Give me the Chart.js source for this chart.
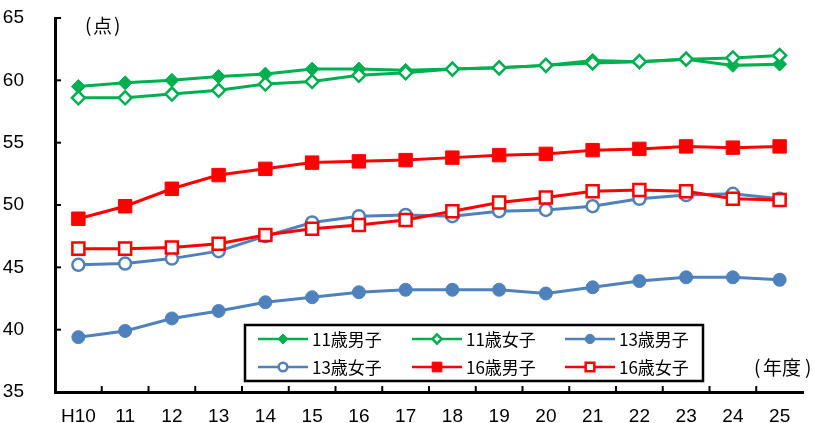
<!DOCTYPE html>
<html>
<head>
<meta charset="utf-8">
<script src="https://cdn.jsdelivr.net/npm/chart.js@4/dist/chart.umd.min.js"></script>
<style>
body { margin: 0; background: #fff; }
</style>
</head>
<body>
<canvas id="mycanvas" width="814" height="423"></canvas>
<script>
var years = ["H10", "11", "12", "13", "14", "15", "16", "17", "18", "19", "20", "21", "22", "23", "24", "25"];

var boys11  = [59.5, 59.8, 60.0, 60.3, 60.5, 60.9, 60.9, 60.8, 60.9, 61.0, 61.2, 61.6, 61.5, 61.7, 61.2, 61.3];
var girls11 = [58.6, 58.6, 58.9, 59.2, 59.7, 59.9, 60.4, 60.6, 60.9, 61.0, 61.2, 61.4, 61.5, 61.7, 61.8, 62.0];
var boys13  = [39.4, 39.9, 40.9, 41.5, 42.2, 42.6, 43.0, 43.2, 43.2, 43.2, 42.9, 43.4, 43.9, 44.2, 44.2, 44.0];
var girls13 = [45.2, 45.3, 45.7, 46.3, 47.5, 48.6, 49.1, 49.2, 49.1, 49.5, 49.6, 49.9, 50.5, 50.8, 50.9, 50.5];
var boys16  = [48.9, 49.9, 51.3, 52.4, 52.9, 53.4, 53.5, 53.6, 53.8, 54.0, 54.1, 54.4, 54.5, 54.7, 54.6, 54.7];
var girls16 = [46.5, 46.5, 46.6, 46.9, 47.6, 48.1, 48.4, 48.8, 49.5, 50.2, 50.6, 51.1, 51.2, 51.1, 50.5, 50.4];

var yTicks = [35, 40, 45, 50, 55, 60, 65];

var GREEN = "#00B050";
var BLUE = "#4F81BD";
var RED = "#FF0000";

function series(label, data, color, style, radius, filled) {
	return {
		label: label,
		data: data,
		borderColor: color,
		backgroundColor: color,
		borderWidth: 3,
		tension: 0,
		pointStyle: style,
		pointRadius: radius,
		pointBackgroundColor: filled ? color : "#fff",
		pointBorderColor: color,
		pointBorderWidth: filled ? 1 : 2.5
	};
}

var datasets = [
	series("11歳男子", boys11, GREEN, "rectRot", 7, true),
	series("11歳女子", girls11, GREEN, "rectRot", 6.5, false),
	series("13歳男子", boys13, BLUE, "circle", 6.5, true),
	series("13歳女子", girls13, BLUE, "circle", 6, false),
	series("16歳男子", boys16, RED, "rect", 9.5, true),
	series("16歳女子", girls16, RED, "rect", 8.5, false)
];
// later series on top, like the original
for (var i = 0; i < datasets.length; i++) datasets[i].order = -i;

function marker(ctx, ds, x, y, scale) {
	var r = ds.pointRadius * scale;
	ctx.beginPath();
	if (ds.pointStyle == "circle") {
		ctx.arc(x, y, r, 0, Math.PI * 2);
	} else if (ds.pointStyle == "rectRot") {
		ctx.moveTo(x, y - r); ctx.lineTo(x + r, y); ctx.lineTo(x, y + r); ctx.lineTo(x - r, y); ctx.closePath();
	} else {
		var s = r * Math.SQRT1_2;
		ctx.rect(x - s, y - s, s * 2, s * 2);
	}
	ctx.fillStyle = ds.pointBackgroundColor;
	ctx.fill();
	ctx.lineWidth = ds.pointBorderWidth;
	ctx.strokeStyle = ds.pointBorderColor;
	ctx.stroke();
}

var extras = {
	id: "extras",
	afterDraw: function(chart) {
		var ctx = chart.ctx, xs = chart.scales.x, ys = chart.scales.y, area = chart.chartArea;
		ctx.save();
		ctx.strokeStyle = "#000";
		ctx.lineWidth = 2;
		// tick marks point inward
		ys.ticks.forEach(function(t) {
			var y = ys.getPixelForValue(t.value);
			ctx.beginPath(); ctx.moveTo(area.left, y); ctx.lineTo(area.left + 6, y); ctx.stroke();
		});
		var step = xs.getPixelForValue(1) - xs.getPixelForValue(0);
		for (var i = 1; i < years.length; i++) {
			var x = xs.getPixelForValue(i) - step / 2;
			ctx.beginPath(); ctx.moveTo(x, area.bottom); ctx.lineTo(x, area.bottom - 6); ctx.stroke();
		}

		// legend box
		ctx.fillStyle = "#fff";
		ctx.fillRect(245, 325, 458, 56);
		ctx.lineWidth = 2.5;
		ctx.strokeStyle = "#000";
		ctx.strokeRect(245, 325, 458, 56);
		var cols = [258, 412, 565];
		var rows = [339, 367];
		ctx.font = "17px 'Noto Sans CJK JP'";
		ctx.textBaseline = "middle";
		ctx.textAlign = "left";
		chart.data.datasets.forEach(function(ds, k) {
			var lx = cols[k % 3], ly = rows[Math.floor(k / 3)];
			ctx.strokeStyle = ds.borderColor;
			ctx.lineWidth = 2.5;
			ctx.beginPath(); ctx.moveTo(lx, ly); ctx.lineTo(lx + 50, ly); ctx.stroke();
			marker(ctx, ds, lx + 25, ly, 0.72);
			ctx.fillStyle = "#000";
			ctx.fillText(ds.label, lx + 54, ly + 1);
		});

		// unit labels
		ctx.fillStyle = "#000";
		ctx.font = "19px 'Noto Sans CJK JP'";
		ctx.textBaseline = "middle";
		ctx.fillText("(", 85, 25);
		ctx.fillText("点", 93, 26);
		ctx.fillText(")", 114, 25);
		ctx.fillText("(", 754, 367);
		ctx.fillText("年度", 763, 368);
		ctx.fillText(")", 805, 367);
		ctx.restore();
	}
};

var ctx = document.getElementById("mycanvas");

var LineGraph = new Chart(ctx, {
	type: "line",
	data: {
		labels: years,
		datasets: datasets
	},
	options: {
		responsive: false,
		animation: false,
		devicePixelRatio: 1,
		layout: { padding: { top: 18, right: 0, left: 0, bottom: 0 } },
		plugins: {
			legend: { display: false },
			tooltip: { enabled: false }
		},
		scales: {
			x: {
				offset: true,
				grid: { display: false },
				border: { display: true, color: "#000", width: 3 },
				ticks: {
					color: "#000",
					font: { family: "'Liberation Sans', Arial", size: 19 },
					padding: 5,
					maxRotation: 0,
					autoSkip: false
				},
				afterFit: function(scale) {
					scale.height = 31;
					scale.paddingLeft = 0; scale.paddingRight = 0;
				}
			},
			y: {
				min: 35,
				max: 65,
				grid: { display: false },
				border: { display: true, color: "#000", width: 3 },
				afterBuildTicks: function(scale) {
					scale.ticks = yTicks.map(function(v) { return { value: v }; });
				},
				ticks: {
					color: "#000",
					font: { family: "'Liberation Sans', Arial", size: 19 },
					padding: 23
				},
				afterFit: function(scale) {
					scale.width = 55;
					scale.paddingTop = 0; scale.paddingBottom = 0;
				}
			}
		}
	},
	plugins: [extras]
});
</script>
</body>
</html>
